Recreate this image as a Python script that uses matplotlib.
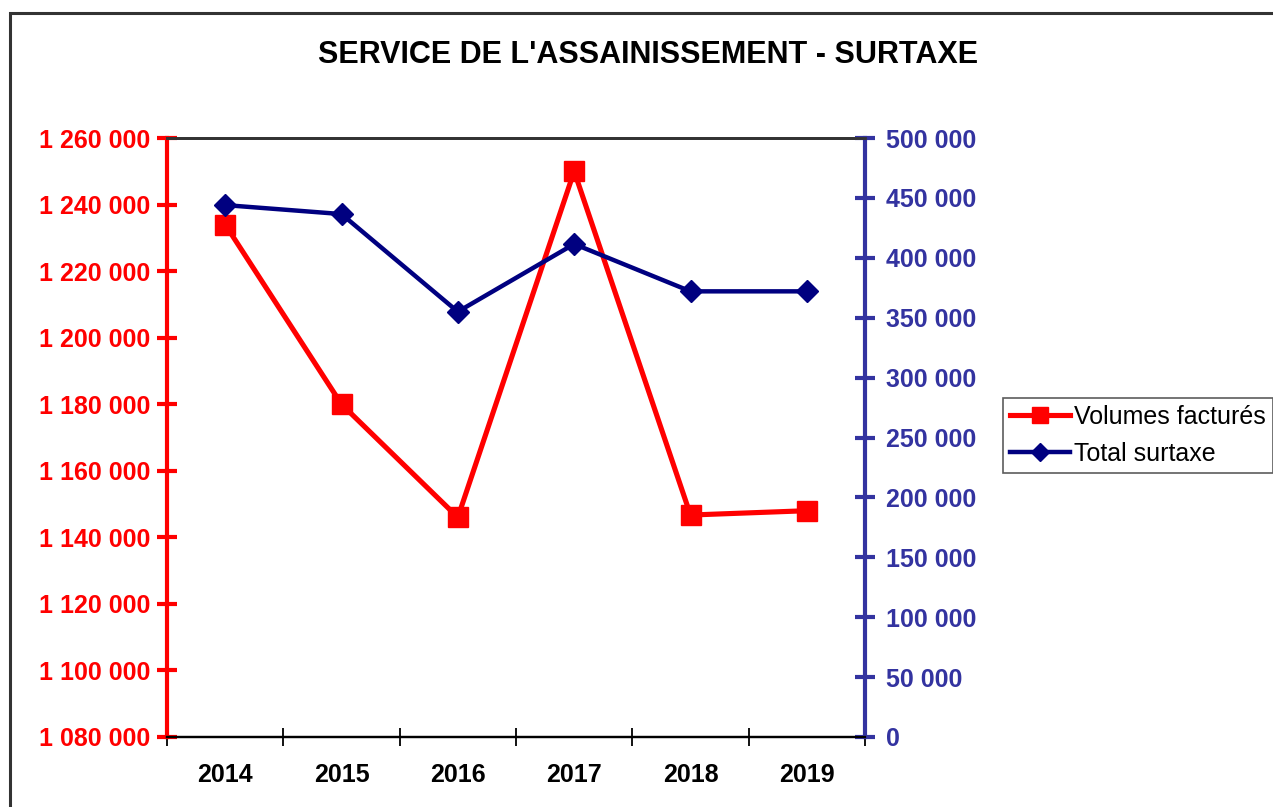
import matplotlib
matplotlib.use("Agg")
import matplotlib.pyplot as plt
from matplotlib.patches import Rectangle
from matplotlib.ticker import FuncFormatter

years = ["2014", "2015", "2016", "2017", "2018", "2019"]
volumes = [1234000, 1180000, 1146000, 1250000, 1146700, 1148000]
surtaxe = [444000, 436500, 355000, 411500, 372000, 372000]

RED = "#ff0000"
NAVY = "#000080"
AXBLUE = "#3333a0"

plt.rcParams["font.family"] = ["Liberation Sans", "DejaVu Sans"]


def fr_thousands(v, pos=None):
    return "{:,.0f}".format(v).replace(",", " ")


W, H = 1273, 807
fig = plt.figure(figsize=(W / 100, H / 100), dpi=100)
# outer chart frame (left and top edges are inside the image)
fig.patches.append(Rectangle((10 / W, -0.1), 1.2, 1 - 13 / H + 0.1,
                             transform=fig.transFigure, fill=False,
                             edgecolor="#333333", lw=2.2))

ax = fig.add_axes([167 / W, 1 - 737 / H, (865 - 167) / W, (737 - 138) / H])
ax2 = ax.twinx()

x = list(range(len(years)))
ax.plot(x, volumes, color=RED, lw=3.7, marker="s", ms=14,
        label="Volumes factur\u00e9s", zorder=3)
ax2.plot(x, surtaxe, color=NAVY, lw=3.2, marker="D", ms=11,
         label="Total surtaxe", zorder=3)

ax.set_xlim(-0.5, len(years) - 0.5)
ax.set_ylim(1080000, 1260000)
ax.set_yticks(range(1080000, 1260001, 20000))
ax.yaxis.set_major_formatter(FuncFormatter(fr_thousands))
ax2.set_ylim(0, 500000)
ax2.set_yticks(range(0, 500001, 50000))
ax2.yaxis.set_major_formatter(FuncFormatter(fr_thousands))

# category boundaries get ticks, labels sit between them
ax.set_xticks([i - 0.5 for i in range(len(years) + 1)])
ax.set_xticklabels([])
ax.set_xticks(x, minor=True)
ax.set_xticklabels(years, minor=True, fontsize=18, fontweight="bold")
ax.tick_params(axis="x", which="major", direction="inout", length=13,
               width=1.3, color="black")
ax.tick_params(axis="x", which="minor", length=0, pad=19)

ax.tick_params(axis="y", direction="inout", length=14, width=3,
               color=RED, labelcolor=RED, labelsize=18, pad=5)
for t in ax.get_yticklabels():
    t.set_fontweight("bold")
ax2.tick_params(axis="y", direction="inout", length=14, width=3,
                color=AXBLUE, labelcolor=AXBLUE, labelsize=18, pad=8)
for t in ax2.get_yticklabels():
    t.set_fontweight("bold")

for a in (ax, ax2):
    a.spines["left"].set_visible(False)
    a.spines["right"].set_visible(False)
    a.spines["top"].set_color("#333333")
    a.spines["top"].set_linewidth(2)
    a.spines["bottom"].set_color("black")
    a.spines["bottom"].set_linewidth(1.6)
ax.spines["left"].set_visible(True)
ax.spines["left"].set_color(RED)
ax.spines["left"].set_linewidth(3)
ax2.spines["right"].set_visible(True)
ax2.spines["right"].set_color(AXBLUE)
ax2.spines["right"].set_linewidth(3)
ax2.spines["left"].set_visible(False)

fig.text(648 / W, 1 - 55 / H, "SERVICE DE L'ASSAINISSEMENT - SURTAXE",
         ha="center", va="center", fontsize=22, fontweight="bold")

h1, l1 = ax.get_legend_handles_labels()
h2, l2 = ax2.get_legend_handles_labels()
leg = fig.legend(h1 + h2, l1 + l2, loc="upper left",
                 bbox_to_anchor=(1003 / W, 1 - 398 / H),
                 bbox_transform=fig.transFigure, fontsize=18,
                 frameon=True, fancybox=False, edgecolor="#333333",
                 handlelength=2.4, handletextpad=0.15, borderpad=0.28,
                 labelspacing=0.52, borderaxespad=0, markerscale=0.85)
leg.get_frame().set_linewidth(1.2)

fig.savefig("out.png", dpi=100)
